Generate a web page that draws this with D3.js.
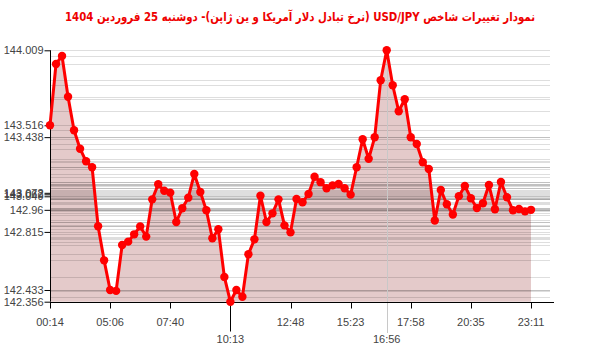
<!DOCTYPE html>
<html><head><meta charset="utf-8">
<script src="https://cdn.jsdelivr.net/npm/d3@7/dist/d3.min.js"></script>
<style>body{margin:0;background:#fff;} svg{display:block;}</style>
</head><body>
<svg id="c" width="600" height="352"></svg>
<script>
const titleText = "نمودار تغییرات شاخص USD/JPY (نرخ تبادل دلار آمریکا و ین ژاپن)-  دوشنبه  25 فروردین 1404";
const values = [
 143.516,143.919,143.972,143.704,143.483,143.362,143.279,143.240,142.852,142.628,
 142.433,142.427,142.729,142.751,142.799,142.851,142.784,143.029,143.128,143.086,
 143.073,142.880,142.970,143.040,143.196,143.077,142.957,142.773,142.832,142.519,
 142.356,142.433,142.389,142.668,142.766,143.053,142.880,142.937,143.029,142.858,
 142.812,143.031,143.010,143.064,143.178,143.142,143.102,143.121,143.130,143.102,
 143.060,143.240,143.424,143.296,143.437,143.812,144.009,143.779,143.608,143.687,
 143.437,143.393,143.273,143.229,142.890,143.091,142.997,142.929,143.050,143.117,
 143.036,142.972,143.003,143.123,142.964,143.143,143.043,142.957,142.966,142.950,
 142.960];
const tickIdx = [0,10,20,30,40,50,60,70,80];
const tickLabels = ["00:14","05:06","07:40","10:13","12:48","15:23","17:58","20:35","23:11"];
const minLabel = "10:13";
const maxLabel = "16:56";
const yTicks = [144.009,143.516,143.438,143.072,143.062,143.049,142.96,142.815,142.433,142.356];

const svg = d3.select("#c");
const L = 50, R = 550, T = 50.3, B = 301.7;
const x = d3.scalePoint().domain(d3.range(values.length)).range([L, 531]);
const y = d3.scaleLinear().domain([d3.min(values), d3.max(values)]).range([B, T]);
const minI = d3.minIndex(values), maxI = d3.maxIndex(values);

// title
svg.append("text").attr("x",300).attr("y",21).attr("text-anchor","middle")
  .attr("direction","rtl").style("unicode-bidi","embed")
  .attr("font-family","DejaVu Sans Condensed, DejaVu Sans").attr("font-weight","bold").attr("font-size",12)
  .attr("textLength",470).attr("lengthAdjust","spacingAndGlyphs")
  .attr("fill","#ee0000").text(titleText);

// area
const area = d3.area().x((d,i)=>x(i)).y0(B).y1(d=>y(d));
svg.append("path").datum(values).attr("d",area).attr("fill","#e4caca");

// gridlines at each value
svg.append("g").selectAll("line").data(values).join("line")
  .attr("x1",L).attr("x2",R).attr("y1",d=>Math.round(y(d))+0.5).attr("y2",d=>Math.round(y(d))+0.5)
  .attr("stroke","rgba(0,0,0,0.13)").attr("stroke-width",1);

// max marker vertical line
svg.append("line").attr("x1",Math.round(x(maxI))+0.5).attr("x2",Math.round(x(maxI))+0.5)
  .attr("y1",T).attr("y2",333).attr("stroke","#c8c8c8");

// y axis
const yAxis = d3.axisLeft(y).tickValues(yTicks).tickSize(6).tickFormat(d=>String(d));
const gy = svg.append("g").attr("transform",`translate(${L+0.5},0)`).call(yAxis);
gy.select(".domain").attr("d",`M0,${T}V${B}`).attr("stroke","#000");
gy.selectAll("text").attr("font-family","Liberation Sans, Arial").attr("font-size",11).attr("fill","#444").attr("x",-7);

// x axis
const gx = svg.append("g").attr("transform",`translate(0,${Math.round(B)+0.5})`);
gx.append("line").attr("x1",L).attr("x2",R+4).attr("stroke","#000");
tickIdx.forEach((ti,k)=>{
  if (ti===minI) return;
  gx.append("line").attr("x1",Math.round(x(ti))+0.5).attr("x2",Math.round(x(ti))+0.5).attr("y1",0).attr("y2",6).attr("stroke","#000");
  gx.append("text").attr("x",x(ti)).attr("y",23).attr("text-anchor","middle")
    .attr("font-family","Liberation Sans, Arial").attr("font-size",11).attr("fill","#444").text(tickLabels[k]);
});
gx.append("line").attr("x1",Math.round(x(minI))+0.5).attr("x2",Math.round(x(minI))+0.5).attr("y1",0).attr("y2",29).attr("stroke","#000");
gx.append("text").attr("x",x(minI)).attr("y",40).attr("text-anchor","middle")
  .attr("font-family","Liberation Sans, Arial").attr("font-size",11).attr("fill","#444").text(minLabel);
gx.append("text").attr("x",x(maxI)).attr("y",40).attr("text-anchor","middle")
  .attr("font-family","Liberation Sans, Arial").attr("font-size",11).attr("fill","#444").text(maxLabel);

// line
const line = d3.line().x((d,i)=>x(i)).y(d=>y(d));
svg.append("path").datum(values).attr("d",line).attr("fill","none").attr("stroke","#ff0000").attr("stroke-width",3).attr("stroke-linejoin","round");
svg.append("g").selectAll("circle").data(values).join("circle")
  .attr("cx",(d,i)=>x(i)).attr("cy",d=>y(d)).attr("r",4.2).attr("fill","#ff0000");
</script>
</body></html>
